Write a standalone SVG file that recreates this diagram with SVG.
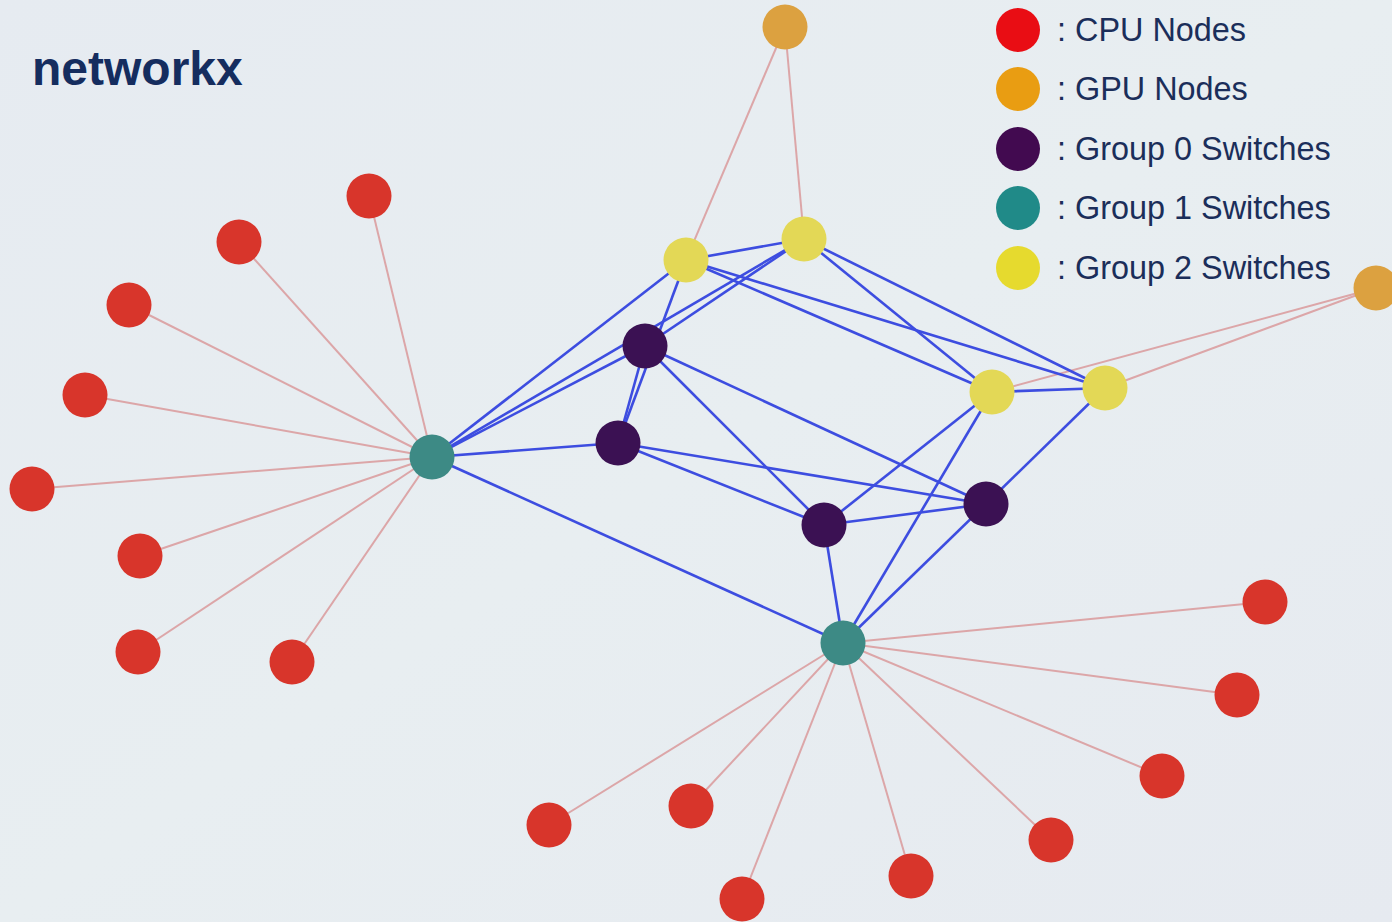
<svg xmlns="http://www.w3.org/2000/svg" width="1392" height="922" viewBox="0 0 1392 922">
  <defs>
    <linearGradient id="bg" x1="0" y1="0" x2="1" y2="1">
      <stop offset="0" stop-color="#e6ebf1"/>
      <stop offset="0.5" stop-color="#e8eef1"/>
      <stop offset="1" stop-color="#e6eaf0"/>
    </linearGradient>
  </defs>
  <style>
    .title { font-family: "Liberation Sans", Arial, sans-serif; font-weight: bold; font-size: 48px; fill: #152d5f; }
    .legend text { font-family: "Liberation Sans", Arial, sans-serif; font-size: 32.4px; fill: #1b2e5a; }
    .link-host { stroke: #dca6a8; stroke-width: 2; fill: none; }
    .link-sw { stroke: #3d4de0; stroke-width: 2.6; fill: none; }
    .cpu { fill: #d8352b; }
    .gpu { fill: #dca140; }
    .g0 { fill: #3b1153; }
    .g1 { fill: #3d8a85; }
    .g2 { fill: #e3d856; }
  </style>

  <rect width="1392" height="922" fill="url(#bg)"/>

  <text class="title" x="32" y="85">networkx</text>

  <!-- legend -->
  <g class="legend" id="legend">
    <circle cx="1018" cy="30" r="22" fill="#e90d14"/>
    <text x="1057" y="41">: CPU Nodes</text>
    <circle cx="1018" cy="89" r="22" fill="#e99d12"/>
    <text x="1057" y="100">: GPU Nodes</text>
    <circle cx="1018" cy="149" r="22" fill="#420a50"/>
    <text x="1057" y="160">: Group 0 Switches</text>
    <circle cx="1018" cy="208" r="22" fill="#208a88"/>
    <text x="1057" y="219">: Group 1 Switches</text>
    <circle cx="1018" cy="268" r="22" fill="#e6da2e"/>
    <text x="1057" y="279">: Group 2 Switches</text>
  </g>

  <!-- connectors -->
  <g id="edges">
    <!-- host links: CPU/GPU to switches -->
    <g class="link-host">
      <line x1="432" y1="457" x2="369" y2="196"/>
      <line x1="432" y1="457" x2="239" y2="242"/>
      <line x1="432" y1="457" x2="129" y2="305"/>
      <line x1="432" y1="457" x2="85" y2="395"/>
      <line x1="432" y1="457" x2="32" y2="489"/>
      <line x1="432" y1="457" x2="140" y2="556"/>
      <line x1="432" y1="457" x2="138" y2="652"/>
      <line x1="432" y1="457" x2="292" y2="662"/>
      <line x1="843" y1="643" x2="1265" y2="602"/>
      <line x1="843" y1="643" x2="1237" y2="695"/>
      <line x1="843" y1="643" x2="1162" y2="776"/>
      <line x1="843" y1="643" x2="1051" y2="840"/>
      <line x1="843" y1="643" x2="911" y2="876"/>
      <line x1="843" y1="643" x2="742" y2="899"/>
      <line x1="843" y1="643" x2="691" y2="806"/>
      <line x1="843" y1="643" x2="549" y2="825"/>
      <line x1="785" y1="27" x2="686" y2="260"/>
      <line x1="785" y1="27" x2="804" y2="239"/>
      <line x1="1376" y1="288" x2="992" y2="392"/>
      <line x1="1376" y1="288" x2="1105" y2="388"/>
    </g>
    <!-- switch-to-switch links -->
    <g class="link-sw">
      <line x1="432" y1="457" x2="686" y2="260"/>
      <line x1="432" y1="457" x2="804" y2="239"/>
      <line x1="432" y1="457" x2="645" y2="346"/>
      <line x1="432" y1="457" x2="618" y2="443"/>
      <line x1="432" y1="457" x2="843" y2="643"/>
      <line x1="686" y1="260" x2="804" y2="239"/>
      <line x1="686" y1="260" x2="618" y2="443"/>
      <line x1="686" y1="260" x2="992" y2="392"/>
      <line x1="686" y1="260" x2="1105" y2="388"/>
      <line x1="804" y1="239" x2="645" y2="346"/>
      <line x1="804" y1="239" x2="992" y2="392"/>
      <line x1="804" y1="239" x2="1105" y2="388"/>
      <line x1="992" y1="392" x2="1105" y2="388"/>
      <line x1="645" y1="346" x2="618" y2="443"/>
      <line x1="645" y1="346" x2="824" y2="525"/>
      <line x1="645" y1="346" x2="986" y2="504"/>
      <line x1="618" y1="443" x2="824" y2="525"/>
      <line x1="618" y1="443" x2="986" y2="504"/>
      <line x1="824" y1="525" x2="986" y2="504"/>
      <line x1="824" y1="525" x2="992" y2="392"/>
      <line x1="824" y1="525" x2="843" y2="643"/>
      <line x1="986" y1="504" x2="1105" y2="388"/>
      <line x1="986" y1="504" x2="843" y2="643"/>
      <line x1="843" y1="643" x2="992" y2="392"/>
    </g>
  </g>

  <!-- GPU nodes -->
  <g id="gpu-0"><circle class="gpu" cx="785" cy="27" r="22.5"/></g>
  <g id="gpu-1"><circle class="gpu" cx="1376" cy="288" r="22.5"/></g>

  <!-- Group 2 switches -->
  <g id="g2-0"><circle class="g2" cx="686" cy="260" r="22.5"/></g>
  <g id="g2-1"><circle class="g2" cx="804" cy="239" r="22.5"/></g>
  <g id="g2-2"><circle class="g2" cx="992" cy="392" r="22.5"/></g>
  <g id="g2-3"><circle class="g2" cx="1105" cy="388" r="22.5"/></g>

  <!-- Group 0 switches -->
  <g id="g0-0"><circle class="g0" cx="645" cy="346" r="22.5"/></g>
  <g id="g0-1"><circle class="g0" cx="618" cy="443" r="22.5"/></g>
  <g id="g0-2"><circle class="g0" cx="824" cy="525" r="22.5"/></g>
  <g id="g0-3"><circle class="g0" cx="986" cy="504" r="22.5"/></g>

  <!-- Group 1 switches -->
  <g id="g1-0"><circle class="g1" cx="432" cy="457" r="22.5"/></g>
  <g id="g1-1"><circle class="g1" cx="843" cy="643" r="22.5"/></g>

  <!-- CPU nodes -->
  <g id="cpu-0"><circle class="cpu" cx="369" cy="196" r="22.5"/></g>
  <g id="cpu-1"><circle class="cpu" cx="239" cy="242" r="22.5"/></g>
  <g id="cpu-2"><circle class="cpu" cx="129" cy="305" r="22.5"/></g>
  <g id="cpu-3"><circle class="cpu" cx="85" cy="395" r="22.5"/></g>
  <g id="cpu-4"><circle class="cpu" cx="32" cy="489" r="22.5"/></g>
  <g id="cpu-5"><circle class="cpu" cx="140" cy="556" r="22.5"/></g>
  <g id="cpu-6"><circle class="cpu" cx="138" cy="652" r="22.5"/></g>
  <g id="cpu-7"><circle class="cpu" cx="292" cy="662" r="22.5"/></g>
  <g id="cpu-8"><circle class="cpu" cx="1265" cy="602" r="22.5"/></g>
  <g id="cpu-9"><circle class="cpu" cx="1237" cy="695" r="22.5"/></g>
  <g id="cpu-10"><circle class="cpu" cx="1162" cy="776" r="22.5"/></g>
  <g id="cpu-11"><circle class="cpu" cx="1051" cy="840" r="22.5"/></g>
  <g id="cpu-12"><circle class="cpu" cx="911" cy="876" r="22.5"/></g>
  <g id="cpu-13"><circle class="cpu" cx="742" cy="899" r="22.5"/></g>
  <g id="cpu-14"><circle class="cpu" cx="691" cy="806" r="22.5"/></g>
  <g id="cpu-15"><circle class="cpu" cx="549" cy="825" r="22.5"/></g>
</svg>
